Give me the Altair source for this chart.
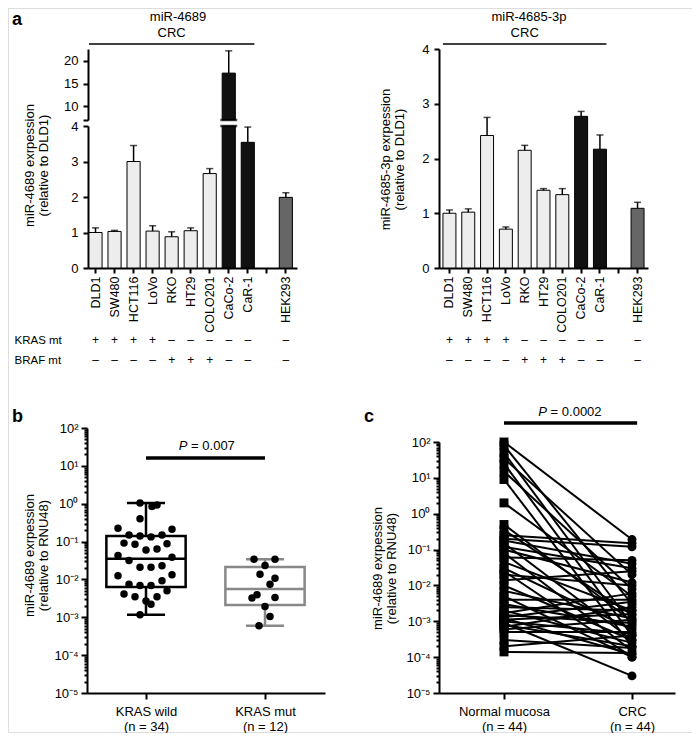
import altair as alt
import pandas as pd

FONT = "Liberation Sans"
W, H = 684, 724
M = 8  # page margin: reference pixel -> chart pixel
FS = 13


def P(v):
    return v - M


# ---------------- panel a data ----------------
cells = ["DLD1", "SW480", "HCT116", "LoVo", "RKO", "HT29", "COLO201", "CaCo-2", "CaR-1", "HEK293"]
cell_domain = ["DLD1", "SW480", "HCT116", "LoVo", "RKO", "HT29", "COLO201", "CaCo-2", "CaR-1", " ", "HEK293"]
bar_kind = ["dotted"] * 7 + ["solid", "solid", "checker"]
mir4689_mean = [1.00, 1.03, 3.00, 1.04, 0.88, 1.05, 2.66, 17.3, 3.54, 1.99]
mir4689_top = [1.13, 1.06, 3.45, 1.19, 1.02, 1.13, 2.80, 22.2, 3.97, 2.12]
mir4685_mean = [1.00, 1.02, 2.42, 0.71, 2.15, 1.42, 1.34, 2.77, 2.17, 1.09]
mir4685_top = [1.06, 1.08, 2.75, 0.75, 2.24, 1.45, 1.45, 2.86, 2.43, 1.20]
mut_rows = ["KRAS mt", "BRAF mt"]
kras_mt = ["+", "+", "+", "+", "–", "–", "–", "–", "–", "–"]
braf_mt = ["–", "–", "–", "–", "+", "+", "+", "–", "–", "–"]
panel_titles = ["miR-4689", "miR-4685-3p"]
group_label = "CRC"
panel_letters = ["a", "b", "c"]

# ---------------- panel b data ----------------
b_groups = ["KRAS wild", "KRAS mut"]
b_n = [34, 12]
wild_vals = [1.05, 0.84, 0.93, 0.40, 0.226, 0.212, 0.150, 0.141, 0.133, 0.150,
             0.091, 0.085, 0.060, 0.064, 0.087, 0.0428, 0.0315, 0.0387, 0.0211, 0.0211,
             0.0229, 0.01245, 0.0132, 0.0075, 0.0069, 0.0069, 0.0092, 0.0050, 0.0041, 0.0035,
             0.0027, 0.0022, 0.0035, 0.00116]
wild_jit = [-6, 6, 11, -6, -28, 26, -17, -6, 5, 16,
            -22, -11, 0, 11, 21, -28, -17, 26, -6, 5,
            16, -28, 26, -17, -6, 5, 16, 21, -22, -11,
            0, 5, 11, -6]
mut_vals = [0.0343, 0.0343, 0.0233, 0.0138, 0.0108, 0.0075, 0.00393, 0.00321, 0.00333, 0.00193, 0.00105, 0.00060]
mut_jit = [-11, 10, 0, -5, 10, 5, -8, -13, 10, 0, 5, -6]
box_min = [0.00116, 0.00060]
box_q1 = [0.0063, 0.0021]
box_med = [0.035, 0.0056]
box_q3 = [0.14, 0.0214]
box_max = [1.05, 0.0343]
box_color = ["#000000", "#888888"]
p_values = ["0.007", "0.0002"]

# ---------------- panel c data ----------------
c_groups = ["Normal mucosa", "CRC"]
c_n = [44, 44]
normal_vals = [100, 80, 50, 35, 25, 15, 9, 2.0,
               0.5, 0.35, 0.25, 0.2, 0.18, 0.15, 0.12, 0.1, 0.08, 0.06,
               0.045, 0.03, 0.025, 0.02, 0.014, 0.01, 0.007, 0.005, 0.004, 0.003,
               0.0025, 0.002, 0.0017, 0.0015, 0.0013, 0.0012, 0.0011, 0.001, 0.0009, 0.0008,
               0.0007, 0.0006, 0.0005, 0.0003, 0.0002, 0.00014]
crc_vals = [0.19, 0.003, 0.0008, 0.02, 0.0004, 0.008, 0.0002, 0.005,
            0.001, 0.0015, 0.15, 0.12, 0.04, 0.0003, 0.03, 0.012, 0.00015, 0.05,
            0.002, 0.0006, 0.0001, 0.01, 0.025, 0.0003, 0.0012, 0.0001, 0.004, 0.0007,
            0.002, 0.00025, 0.006, 0.0009, 0.0035, 0.00012, 0.0016, 0.00045, 0.00003, 0.0002,
            0.0025, 0.0011, 0.0005, 0.00018, 0.0004, 0.00013]

# ---------------- styles ----------------
axis_style = dict(domain=True, ticks=True, labels=True,
                  domainColor="black", domainWidth=2, tickColor="black", tickWidth=2,
                  labelColor="black", labelFont=FONT, labelFontSize=FS,
                  titleFont=FONT, titleFontSize=FS, titleColor="black",
                  titleFontWeight="normal", grid=False)


def ax(**kw):
    return alt.Axis(**{**axis_style, **kw})


kind_scale = alt.Scale(domain=["dotted", "solid", "checker"], range=["#ededed", "#111111", "#666666"])

EXP = "round(log(datum.value)/LN10)"
sup = {2: "²", 1: "¹", 0: "⁰", -1: "⁻¹", -2: "⁻²", -3: "⁻³", -4: "⁻⁴", -5: "⁻⁵"}
sup_expr = "''"
for e, s in sup.items():
    sup_expr = f"({EXP} == {e} ? '{s}' : {sup_expr})"
LOG_LABEL = "'10' + " + sup_expr
major_values = [10.0 ** e for e in range(-5, 3)]
minor_values = [m * 10.0 ** e for e in range(-5, 2) for m in range(2, 10)]


def ytitle(title, tx, ty):
    return dict(title=title, titleX=tx, titleY=ty, titleAngle=270, titleAlign="center",
                titleBaseline="middle", titleLineHeight=14)


def log_axis(x_ref, title, tx, ty):
    return ax(orient="left", offset=-P(x_ref), values=major_values, labelExpr=LOG_LABEL,
              tickSize=6, labelPadding=3, **ytitle(title, tx, ty))


def minor_axis(x_ref):
    return ax(orient="left", offset=-P(x_ref), values=minor_values, tickSize=3,
              labels=False, domain=False, title=None)


def text_at(text, x, y, size=FS, weight="normal", align="center", baseline="middle"):
    return alt.Chart(pd.DataFrame({"t": [text]})).mark_text(
        font=FONT, fontSize=size, fontWeight=weight, align=align, baseline=baseline, color="black"
    ).encode(x=alt.value(P(x)), y=alt.value(P(y)), text="t:N")


def carrier(df, x, y):
    """Invisible unit layer that only carries the axes of a panel's scales."""
    return alt.Chart(df).mark_point(opacity=0, size=1).encode(x=x, y=y)


# ================= panel a =================
dfa = pd.DataFrame({"cell": cells, "kind": bar_kind,
                    "m1": mir4689_mean, "t1": mir4689_top,
                    "m2": mir4685_mean, "t2": mir4685_top,
                    "kras": kras_mt, "braf": braf_mt})
dfa["m1_lo"] = dfa["m1"].clip(upper=4)

rows = []
for c, k, b in zip(cells, kras_mt, braf_mt):
    rows.append({"cell": c, "row": mut_rows[0], "sign": k})
    rows.append({"cell": c, "row": mut_rows[1], "sign": b})
dfrows = pd.DataFrame(rows)

xaxis_a = ax(orient="bottom", offset=P(268) - H, labelAngle=270, tickSize=5,
             labelPadding=3, labelFontSize=12.5, title=None)


def a_panel(mcol, tcol, sc_x, sc_y, y_field, y_base, top_filter, bar_filter,
            crc_y=None, crc_text_y=None, break_y=None):
    base = alt.Chart(dfa)
    X = lambda f: alt.X(f, scale=sc_x, axis=None, title=None)
    bars = base.transform_filter(bar_filter).mark_bar(stroke="black", strokeWidth=1).encode(
        x=X("cell:N"),
        y=alt.Y(y_field, scale=sc_y, axis=None),
        y2=alt.datum(y_base),
        color=alt.Color("kind:N", scale=kind_scale, legend=None),
    )
    err = base.transform_filter(top_filter).mark_rule(color="black", strokeWidth=1.5).encode(
        x=X("cell:N"), y=alt.Y(f"{mcol}:Q", scale=sc_y, axis=None), y2=f"{tcol}:Q")
    cap = base.transform_filter(top_filter).mark_tick(color="black", size=7, thickness=1.5).encode(
        x=X("cell:N"), y=alt.Y(f"{tcol}:Q", scale=sc_y, axis=None))
    layers = [bars, err, cap]
    if break_y is not None:
        brk = alt.Chart(pd.DataFrame({"cell": ["CaCo-2"]})).mark_tick(
            color="black", size=17, thickness=2.5).encode(
            x=X("cell:N"), y=alt.Y(datum=break_y, scale=sc_y, axis=None))
        layers.append(brk)
    if crc_y is not None:
        dfc = pd.DataFrame({"x0": [cells[0]], "x1": [cells[8]], "mid": [cells[4]], "lab": [group_label]})
        crc = alt.Chart(dfc).mark_rule(color="black", strokeWidth=1.5).encode(
            x=alt.X("x0:N", scale=sc_x, axis=None, bandPosition=0),
            x2=alt.X2("x1", bandPosition=1),
            y=alt.Y(datum=crc_y, scale=sc_y, axis=None))
        crct = alt.Chart(dfc).mark_text(font=FONT, fontSize=FS, color="black", baseline="middle").encode(
            x=X("mid:N"), y=alt.Y(datum=crc_text_y, scale=sc_y, axis=None), text="lab:N")
        layers += [crc, crct]
    return alt.layer(*layers)


# ---- left (miR-4689), broken axis ----
sc_xL = alt.Scale(type="band", domain=cell_domain, range=[P(88), P(297)], paddingInner=0.31, paddingOuter=0.145, align=0.17)
sc_yL_lo = alt.Scale(domain=[0, 4], range=[P(268), P(126)], nice=False, zero=False)
sc_yL_hi = alt.Scale(domain=[7, 22.6], range=[P(120), P(49)], nice=False, zero=False)

yaxL_lo = ax(orient="left", offset=-P(88), values=[0, 1, 2, 3, 4], tickSize=5, labelPadding=5,
             **ytitle(["miR-4689 exrpession", "(relative to DLD1)"], -59, P(165)))
yaxL_hi = ax(orient="left", offset=-P(88), values=[7, 10, 15, 20], tickSize=5, labelPadding=5,
             labelExpr="datum.value == 7 ? '' : datum.label", title=None)

aL_lo = a_panel("m1", "t1", sc_xL, sc_yL_lo, "m1_lo:Q", 0, "datum.t1 <= 4", "datum.m1 > 0", break_y=4)
aL_hi = a_panel("m1", "t1", sc_xL, sc_yL_hi, "m1:Q", 7, "datum.t1 > 7", "datum.m1 > 7",
                crc_y=23.7, crc_text_y=26.1, break_y=7)
axL_lo = carrier(dfa, alt.X("cell:N", scale=sc_xL, axis=xaxis_a),
                 alt.Y("m1_lo:Q", scale=sc_yL_lo, axis=yaxL_lo))
axL_hi = carrier(dfa, alt.X("cell:N", scale=sc_xL, axis=None),
                 alt.Y("m1:Q", scale=sc_yL_hi, axis=yaxL_hi))

rowsL = alt.Chart(dfrows).mark_text(font=FONT, fontSize=12, color="black").encode(
    x=alt.X("cell:N", scale=sc_xL, axis=None),
    y=alt.Y("row:N", scale=alt.Scale(type="point", domain=mut_rows, range=[P(340), P(360)], padding=0),
            axis=ax(orient="left", offset=-P(88), ticks=False, domain=False,
                    labelAlign="left", labelPadding=P(88) - 6, labelFontSize=11.5, title=None)),
    text="sign:N")

# ---- right (miR-4685-3p) ----
sc_xR = alt.Scale(type="band", domain=cell_domain, range=[P(439), P(648)], paddingInner=0.31, paddingOuter=0.21)
sc_yR = alt.Scale(domain=[0, 4], range=[P(268), P(49)], nice=False, zero=False)
yaxR = ax(orient="left", offset=-P(439), values=[0, 1, 2, 3, 4], tickSize=5, labelPadding=5,
          **ytitle(["miR-4685-3p exrpession", "(relative to DLD1)"], -54, P(159)))


def a_right():
    base = alt.Chart(dfa)
    X = lambda f: alt.X(f, scale=sc_xR, axis=None, title=None)
    bars = base.mark_bar(stroke="black", strokeWidth=1).encode(
        x=X("cell:N"), y=alt.Y("m2:Q", scale=sc_yR, axis=None), y2=alt.datum(0),
        color=alt.Color("kind:N", scale=kind_scale, legend=None))
    err = base.mark_rule(color="black", strokeWidth=1.5).encode(
        x=X("cell:N"), y=alt.Y("m2:Q", scale=sc_yR, axis=None), y2="t2:Q")
    cap = base.mark_tick(color="black", size=7, thickness=1.5).encode(
        x=X("cell:N"), y=alt.Y("t2:Q", scale=sc_yR, axis=None))
    dfc = pd.DataFrame({"x0": [cells[0]], "x1": [cells[8]], "mid": [cells[4]], "lab": [group_label]})
    crc = alt.Chart(dfc).mark_rule(color="black", strokeWidth=1.5).encode(
        x=alt.X("x0:N", scale=sc_xR, axis=None, bandPosition=0),
        x2=alt.X2("x1", bandPosition=1),
        y=alt.Y(datum=4.09, scale=sc_yR, axis=None))
    crct = alt.Chart(dfc).mark_text(font=FONT, fontSize=FS, color="black", baseline="middle").encode(
        x=X("mid:N"), y=alt.Y(datum=4.29, scale=sc_yR, axis=None), text="lab:N")
    return alt.layer(bars, err, cap, crc, crct)


aR = a_right()
axR = carrier(dfa, alt.X("cell:N", scale=sc_xR, axis=xaxis_a), alt.Y("m2:Q", scale=sc_yR, axis=yaxR))
rowsR = alt.Chart(dfrows).mark_text(font=FONT, fontSize=12, color="black").encode(
    x=alt.X("cell:N", scale=sc_xR, axis=None),
    y=alt.Y("row:N", scale=alt.Scale(type="point", domain=mut_rows, range=[P(340), P(360)], padding=0), axis=None),
    text="sign:N")

# ================= panel b =================
STEP_B = 119.0
dfb = pd.DataFrame({"g": [0] * len(wild_vals) + [1] * len(mut_vals),
                    "v": wild_vals + mut_vals,
                    "j": [j / STEP_B for j in wild_jit + mut_jit]})
dfb["xpos"] = dfb["g"] + dfb["j"]
dfbox = pd.DataFrame({"g": [0, 1], "lo": box_min, "q1": box_q1, "med": box_med,
                      "q3": box_q3, "hi": box_max, "col": box_color})
BOX_HW, CAP_HW = 0.333, 0.16

sc_xb = alt.Scale(domain=[(87 - 146) / STEP_B, (325 - 146) / STEP_B], range=[P(87), P(325)], nice=False, zero=False)
sc_yb = alt.Scale(type="log", domain=[1e-5, 100], range=[P(693), P(428)], nice=False)
xb_labels = (f"datum.value < 0.5 ? ['{b_groups[0]}', '(n = {b_n[0]})'] : "
             f"['{b_groups[1]}', '(n = {b_n[1]})']")
xb_axis = ax(orient="bottom", offset=P(693) - H, values=[0, 1], labelExpr=xb_labels, tickSize=6,
             labelPadding=6, labelLineHeight=15, title=None)
yb_axis = log_axis(87, ["miR-4689 exrpession", "(relative to RNU48)"], -58, P(555))

boxbase = alt.Chart(dfbox).transform_calculate(
    x0=f"datum.g - {BOX_HW}", x1=f"datum.g + {BOX_HW}",
    c0=f"datum.g - {CAP_HW}", c1=f"datum.g + {CAP_HW}")
Xb = lambda f: alt.X(f, scale=sc_xb, axis=None, title=None)
Yb = lambda f: alt.Y(f, scale=sc_yb, axis=None, title=None)
stroke_id = alt.Stroke("col:N", scale=None)

b_whisk_lo = boxbase.mark_rule(strokeWidth=2.5).encode(x=Xb("g:Q"), y=Yb("lo:Q"), y2="q1:Q", stroke=stroke_id)
b_whisk_hi = boxbase.mark_rule(strokeWidth=2.5).encode(x=Xb("g:Q"), y=Yb("q3:Q"), y2="hi:Q", stroke=stroke_id)
b_cap_lo = boxbase.mark_rule(strokeWidth=2.5).encode(x=Xb("c0:Q"), x2="c1:Q", y=Yb("lo:Q"), stroke=stroke_id)
b_cap_hi = boxbase.mark_rule(strokeWidth=2.5).encode(x=Xb("c0:Q"), x2="c1:Q", y=Yb("hi:Q"), stroke=stroke_id)
b_box = boxbase.mark_rect(fillOpacity=0, strokeWidth=2.5).encode(x=Xb("x0:Q"), x2="x1:Q", y=Yb("q1:Q"), y2="q3:Q", stroke=stroke_id)
b_med = boxbase.mark_rule(strokeWidth=2.5).encode(x=Xb("x0:Q"), x2="x1:Q", y=Yb("med:Q"), stroke=stroke_id)
b_pts = alt.Chart(dfb).mark_circle(size=56, color="black", opacity=1).encode(x=Xb("xpos:Q"), y=Yb("v:Q"))

dfp = pd.DataFrame({"p": ["P"], "rb": ["= " + p_values[0]], "rc": ["= " + p_values[1]]})
b_pbar = alt.Chart(dfp).mark_rule(color="black", strokeWidth=3.5).encode(
    x=alt.X(datum=0, scale=sc_xb, axis=None), x2=alt.datum(1), y=alt.Y(datum=16.2, scale=sc_yb, axis=None))
b_p1 = alt.Chart(dfp).mark_text(font=FONT, fontSize=FS, fontStyle="italic", align="right", dx=-18, color="black").encode(
    x=alt.X(datum=0.5, scale=sc_xb, axis=None), y=alt.Y(datum=33.5, scale=sc_yb, axis=None), text="p:N")
b_p2 = alt.Chart(dfp).mark_text(font=FONT, fontSize=FS, align="left", dx=-14.4, color="black").encode(
    x=alt.X(datum=0.5, scale=sc_xb, axis=None), y=alt.Y(datum=33.5, scale=sc_yb, axis=None), text="rb:N")

panel_b = alt.layer(b_whisk_lo, b_whisk_hi, b_cap_lo, b_cap_hi, b_box, b_med, b_pts, b_pbar, b_p1, b_p2)
axb = carrier(dfb, alt.X("xpos:Q", scale=sc_xb, axis=xb_axis), alt.Y("v:Q", scale=sc_yb, axis=yb_axis))
axb_minor = carrier(dfb, alt.X("xpos:Q", scale=sc_xb, axis=None), alt.Y("v:Q", scale=sc_yb, axis=minor_axis(87)))

# ================= panel c =================
STEP_C = 128.0
n_pairs = len(normal_vals)
dfc_long = pd.DataFrame({"pair": list(range(n_pairs)) * 2,
                         "g": [0] * n_pairs + [1] * n_pairs,
                         "v": normal_vals + crc_vals})
sc_xc = alt.Scale(domain=[(439 - 504) / STEP_C, (675 - 504) / STEP_C], range=[P(439), P(675)], nice=False, zero=False)
sc_yc = alt.Scale(type="log", domain=[1e-5, 100], range=[P(693), P(442)], nice=False)
xc_labels = (f"datum.value < 0.5 ? ['{c_groups[0]}', '(n = {c_n[0]})'] : "
             f"['{c_groups[1]}', '(n = {c_n[1]})']")
xc_axis = ax(orient="bottom", offset=P(693) - H, values=[0, 1], labelExpr=xc_labels, tickSize=6,
             labelPadding=6, labelLineHeight=15, title=None)
yc_axis = log_axis(439, ["miR-4689 exrpession", "(relative to RNU48)"], -62, P(568))

Xc = lambda f: alt.X(f, scale=sc_xc, axis=None, title=None)
Yc = lambda f: alt.Y(f, scale=sc_yc, axis=None, title=None)
c_lines = alt.Chart(dfc_long).mark_line(color="black", strokeWidth=2).encode(
    x=Xc("g:Q"), y=Yc("v:Q"), detail="pair:N")
c_sq = alt.Chart(dfc_long).transform_filter("datum.g == 0").mark_square(size=80, color="black", opacity=1).encode(
    x=Xc("g:Q"), y=Yc("v:Q"))
c_ci = alt.Chart(dfc_long).transform_filter("datum.g == 1").mark_circle(size=80, color="black", opacity=1).encode(
    x=Xc("g:Q"), y=Yc("v:Q"))
c_pbar = alt.Chart(dfp).mark_rule(color="black", strokeWidth=3.5).encode(
    x=alt.X(datum=0, scale=sc_xc, axis=None), x2=alt.datum(1.04), y=alt.Y(datum=339, scale=sc_yc, axis=None))
c_p1 = alt.Chart(dfp).mark_text(font=FONT, fontSize=FS, fontStyle="italic", align="right", dx=-21, color="black").encode(
    x=alt.X(datum=0.5, scale=sc_xc, axis=None), y=alt.Y(datum=685, scale=sc_yc, axis=None), text="p:N")
c_p2 = alt.Chart(dfp).mark_text(font=FONT, fontSize=FS, align="left", dx=-17.4, color="black").encode(
    x=alt.X(datum=0.5, scale=sc_xc, axis=None), y=alt.Y(datum=685, scale=sc_yc, axis=None), text="rc:N")
panel_c = alt.layer(c_lines, c_sq, c_ci, c_pbar, c_p1, c_p2)
axc = carrier(dfc_long, alt.X("g:Q", scale=sc_xc, axis=xc_axis), alt.Y("v:Q", scale=sc_yc, axis=yc_axis))
axc_minor = carrier(dfc_long, alt.X("g:Q", scale=sc_xc, axis=None), alt.Y("v:Q", scale=sc_yc, axis=minor_axis(439)))

# ================= annotations =================
annots = [
    text_at(panel_titles[0], 178, 17),
    text_at(panel_titles[1], 529, 17),
    text_at(panel_letters[0], 12, 25, size=18, weight="bold", align="left", baseline="alphabetic"),
    text_at(panel_letters[1], 12, 422, size=18, weight="bold", align="left", baseline="alphabetic"),
    text_at(panel_letters[2], 364, 422, size=18, weight="bold", align="left", baseline="alphabetic"),
]

chart = alt.layer(
    aL_lo, aL_hi, axL_lo, axL_hi, rowsL,
    aR, axR, rowsR,
    panel_b, axb, axb_minor,
    panel_c, axc, axc_minor,
    *annots
).resolve_scale(
    x="independent", y="independent", color="independent", stroke="independent"
).resolve_axis(x="independent", y="independent").properties(
    width=W, height=H, padding=0
).configure_view(stroke=None, strokeWidth=0).configure_axis(
    domain=False, ticks=False, labels=False, grid=False
).configure(font=FONT)

chart.save("out.html", embed_options={"renderer": "svg", "actions": False})
